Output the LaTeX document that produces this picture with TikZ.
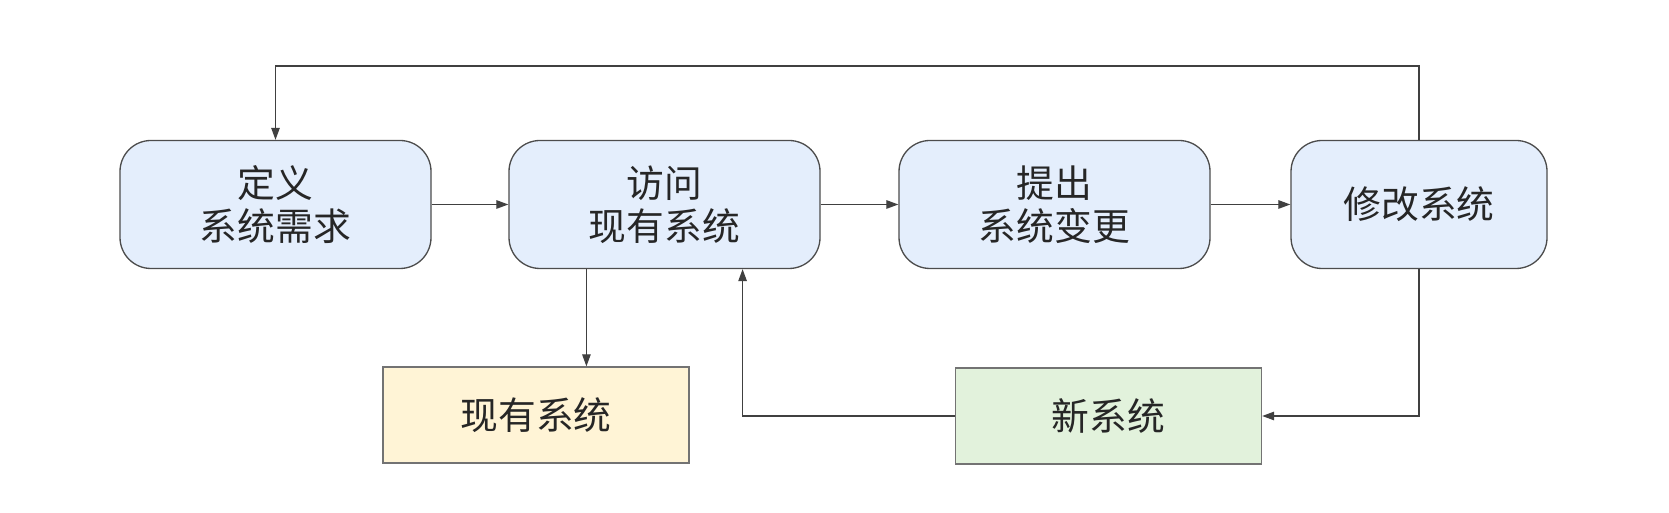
\documentclass[tikz,border=0pt]{standalone}
\usepackage{fontspec}
\setmainfont{Noto Sans CJK SC}
\usepackage{xcolor}
\usetikzlibrary{arrows.meta,positioning,calc}
\definecolor{stageblue}{HTML}{E4EEFC}
\definecolor{oldyellow}{HTML}{FFF4D6}
\definecolor{newgreen}{HTML}{E2F2DC}

\begin{document}
\begin{tikzpicture}[
    every node/.style={font=\fontsize{21.5}{24.5}\selectfont, text=black!85, align=center},
    stage/.style={draw=black!70, fill=stageblue, rounded corners=0.62cm,
      minimum width=6.22cm, minimum height=2.56cm, line width=0.75pt},
    result/.style={draw=black!55, minimum width=6.12cm, minimum height=1.92cm, line width=0.75pt},
    flow/.style={draw=black!75, line width=0.7pt, -{Triangle[length=0.24cm, width=0.17cm]}}]
  \useasboundingbox (0,0) rectangle (33.38,10.26);
  % top row
  \node[stage] (define)  at (5.51,6.17)  {定义\\系统需求};
  \node[stage] (visit)   at (13.29,6.17) {访问\\现有系统};
  \node[stage] (propose) at (21.09,6.17) {提出\\系统变更};
  \node[stage, minimum width=5.12cm] (modify) at (28.38,6.17) {修改系统};
  % bottom row
  \node[result, fill=oldyellow] (oldsys) at (10.72,1.96) {现有系统};
  \node[result, fill=newgreen]  (newsys) at (22.17,1.94) {新系统};
  \coordinate (top) at (0,8.94);
  \coordinate (vout) at ($(visit.south west)!0.25!(visit.south east)$);
  \coordinate (vin)  at ($(visit.south west)!0.75!(visit.south east)$);
  \draw[flow] (define) -- (visit);
  \draw[flow] (visit) -- (propose);
  \draw[flow] (propose) -- (modify);
  \draw[flow] (modify.north) -- (modify.north |- top) -| (define.north);
  \draw[flow] (vout) -- (vout |- oldsys.north);
  \draw[flow] (modify.south) |- (newsys.east);
  \draw[flow] (newsys.west) -| (vin);
\end{tikzpicture}
\end{document}
